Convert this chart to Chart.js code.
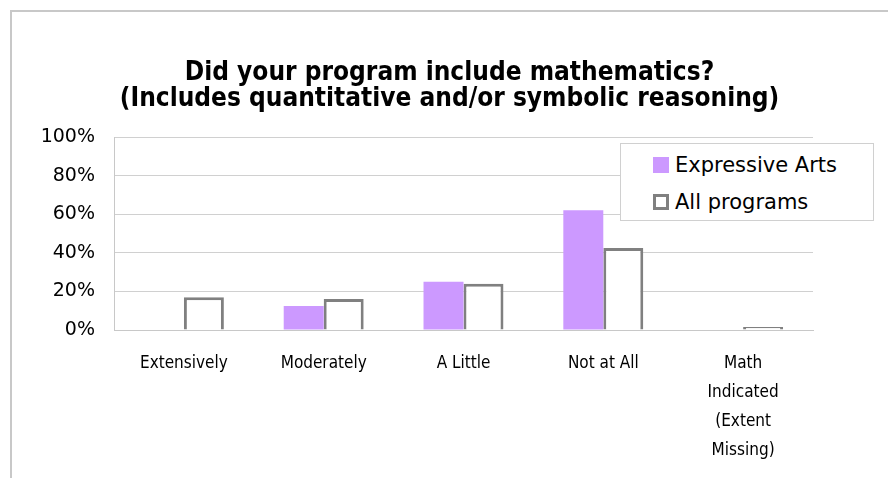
<!DOCTYPE html>
<html lang="en">
<head>
    <meta charset="UTF-8">
    <title>Mathematics in programs</title>
    <script src="https://cdn.jsdelivr.net/npm/chart.js"></script>
    <style>
        body {
            margin: 0;
            background: #fff;
        }

        .wrap {
            position: relative;
            width: 888px;
            height: 478px;
            overflow: hidden;
        }

        .frame {
            position: absolute;
            left: 10px;
            top: 10px;
            width: 940px;
            height: 520px;
            border: 2px solid #c8c8c8;
        }

        canvas {
            position: absolute;
            left: 0;
            top: 0;
        }

        .legend {
            position: absolute;
            left: 620px;
            top: 143px;
            width: 252px;
            height: 76px;
            border: 1px solid #d0d0d0;
            background: #fff;
            font-family: "DejaVu Sans", sans-serif;
            font-size: 21px;
            color: #000;
        }

        .legend div {
            position: absolute;
            left: 32px;
            height: 24px;
            line-height: 24px;
            white-space: nowrap;
        }

        .legend span {
            display: inline-block;
            width: 16px;
            height: 16px;
            box-sizing: border-box;
            margin-right: 6px;
            vertical-align: -1px;
        }
    </style>
</head>
<body>
    <div class="wrap">
        <div class="frame"></div>
        <canvas id="mathChart" width="888" height="478"></canvas>
        <div class="legend" id="legend"></div>
    </div>

    <script>
        const categories = ['Extensively', 'Moderately', 'A Little', 'Not at All',
            ['Math', 'Indicated', '(Extent', 'Missing)']];
        const expressiveArts = [0, 12.5, 25, 62, 0];
        const allPrograms = [17, 16, 24, 42.5, 1.5];
        const yTicks = [0, 20, 40, 60, 80, 100];

        const purple = '#cc99ff';
        const grey = '#808080';
        const narrow = 'DejaVu Sans Condensed, DejaVu Sans, sans-serif';

        // the original title is centred on the whole frame, not the plot
        const shiftTitle = {
            id: 'shiftTitle',
            afterLayout(c) {
                c.titleBlock.left += 43;
                c.titleBlock.right += 43;
            }
        };

        const chart = new Chart(document.getElementById('mathChart'), {
            type: 'bar',
            data: {
                labels: categories,
                datasets: [{
                    label: 'Expressive Arts',
                    data: expressiveArts,
                    backgroundColor: purple,
                    borderWidth: 0
                }, {
                    label: 'All programs',
                    data: allPrograms,
                    backgroundColor: '#ffffff',
                    borderColor: grey,
                    borderWidth: 3
                }]
            },
            options: {
                responsive: false,
                animation: false,
                layout: {
                    padding: { left: 0, right: 75, top: 0, bottom: 0 }
                },
                datasets: {
                    bar: {
                        categoryPercentage: 0.572,
                        barPercentage: 1
                    }
                },
                plugins: {
                    legend: { display: false },
                    tooltip: { enabled: false },
                    title: {
                        display: true,
                        text: ['Did your program include mathematics?',
                            '(Includes quantitative and/or symbolic reasoning)'],
                        color: '#000',
                        font: { family: narrow, size: 26, weight: 'bold', lineHeight: 1.0 },
                        padding: { top: 60, bottom: 25 }
                    }
                },
                scales: {
                    x: {
                        afterFit(scale) { scale.height = 148; },
                        grid: { display: false, drawTicks: false },
                        border: { color: '#c8c8c8', width: 1 },
                        ticks: {
                            color: '#000',
                            padding: 19,
                            maxRotation: 0,
                            autoSkip: false,
                            font: { family: narrow, size: 17, lineHeight: 1.7 }
                        }
                    },
                    y: {
                        min: 0,
                        max: 100,
                        afterFit(scale) { scale.width = 114; },
                        afterBuildTicks(scale) { scale.ticks = yTicks.map(v => ({ value: v })); },
                        grid: { color: '#d0d0d0', drawTicks: false },
                        border: { color: '#c8c8c8', width: 1 },
                        ticks: {
                            color: '#000',
                            padding: 19,
                            callback: v => v + '%',
                            font: { family: 'DejaVu Sans, sans-serif', size: 19 }
                        }
                    }
                }
            },
            plugins: [shiftTitle]
        });

        // legend box sits over the plot like the original
        const legend = document.getElementById('legend');
        chart.data.datasets.forEach((ds, i) => {
            const row = document.createElement('div');
            row.style.top = (9 + i * 37) + 'px';
            const sw = document.createElement('span');
            sw.style.background = ds.backgroundColor;
            if (ds.borderWidth) sw.style.border = ds.borderWidth + 'px solid ' + ds.borderColor;
            row.appendChild(sw);
            row.appendChild(document.createTextNode(ds.label));
            legend.appendChild(row);
        });
    </script>
</body>
</html>
